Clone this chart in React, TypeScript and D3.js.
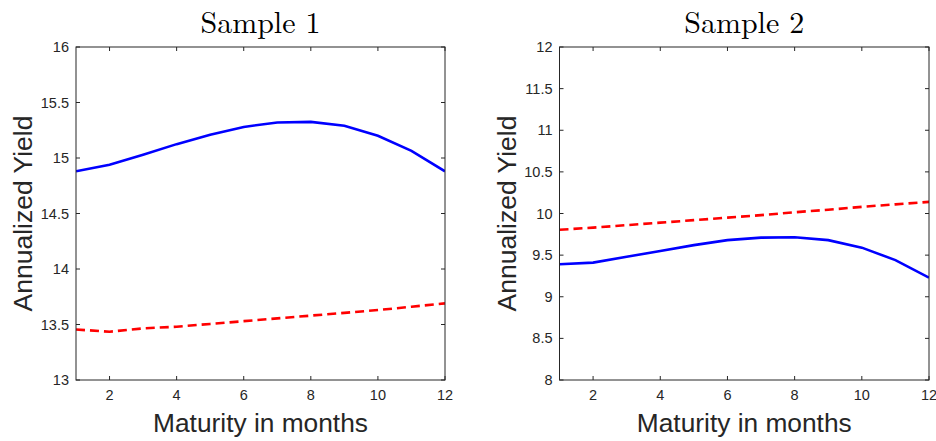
import React from "react";
import * as d3 from "d3";

const maturities = [1, 2, 3, 4, 5, 6, 7, 8, 9, 10, 11, 12];
const sample1Blue = [14.88, 14.94, 15.03, 15.125, 15.21, 15.28, 15.32, 15.325, 15.29, 15.2, 15.065, 14.88];
const sample1Red = [13.455, 13.435, 13.465, 13.48, 13.505, 13.53, 13.555, 13.58, 13.605, 13.63, 13.66, 13.69];
const sample2Blue = [9.39, 9.41, 9.48, 9.55, 9.62, 9.68, 9.71, 9.715, 9.68, 9.59, 9.44, 9.23];
const sample2Red = [9.805, 9.83, 9.86, 9.89, 9.92, 9.95, 9.98, 10.015, 10.045, 10.08, 10.11, 10.14];
const xTicks = [2, 4, 6, 8, 10, 12];
const yTicks1 = [13, 13.5, 14, 14.5, 15, 15.5, 16];
const yTicks2 = [8, 8.5, 9, 9.5, 10, 10.5, 11, 11.5, 12];

const AX = "#262626";
const SANS = "Liberation Sans, Arial, Helvetica, sans-serif";

type PanelProps = {
  left: number;
  right: number;
  top: number;
  bottom: number;
  title: string;
  yDomain: [number, number];
  yTicks: number[];
  blue: number[];
  red: number[];
};

function Panel({ left, right, top, bottom, title, yDomain, yTicks, blue, red }: PanelProps) {
  const x = d3.scaleLinear().domain([1, 12]).range([left, right]);
  const y = d3.scaleLinear().domain(yDomain).range([bottom, top]);
  const line = d3
    .line<number>()
    .x((_, i) => x(maturities[i]))
    .y((d) => y(d));
  const tl = 4;
  return (
    <g>
      <text
        x={(left + right) / 2}
        y={33}
        textAnchor="middle"
        fontFamily="Latin Modern Roman, CMU Serif, Liberation Serif, serif"
        fontSize={30}
        fill="#000"
      >
        {title}
      </text>
      <defs>
        <clipPath id={"clip" + Math.round(left)}>
          <rect x={left} y={top} width={right - left} height={bottom - top} />
        </clipPath>
      </defs>
      <g clipPath={`url(#clip${Math.round(left)})`}>
        <path d={line(blue) || ""} fill="none" stroke="#0000ff" strokeWidth={2.6} />
        <path d={line(red) || ""} fill="none" stroke="#ff0000" strokeWidth={2.6} strokeDasharray="9,5" />
      </g>
      <rect x={left} y={top} width={right - left} height={bottom - top} fill="none" stroke={AX} strokeWidth={1} />
      {xTicks.map((t) => (
        <g key={"x" + t}>
          <line x1={x(t)} x2={x(t)} y1={bottom} y2={bottom - tl} stroke={AX} />
          <line x1={x(t)} x2={x(t)} y1={top} y2={top + tl} stroke={AX} />
          <text x={x(t)} y={bottom + 20} textAnchor="middle" fontFamily={SANS} fontSize={14.5} fill={AX}>
            {t}
          </text>
        </g>
      ))}
      {yTicks.map((t) => (
        <g key={"y" + t}>
          <line x1={left} x2={left + tl} y1={y(t)} y2={y(t)} stroke={AX} />
          <line x1={right} x2={right - tl} y1={y(t)} y2={y(t)} stroke={AX} />
          <text x={left - 7} y={y(t) + 5} textAnchor="end" fontFamily={SANS} fontSize={14.5} fill={AX}>
            {t}
          </text>
        </g>
      ))}
      <text
        x={(left + right) / 2}
        y={432}
        textAnchor="middle"
        fontFamily={SANS}
        fontSize={26.3}
        fill={AX}
      >
        Maturity in months
      </text>
      <text
        transform={`translate(${left - 44},${(top + bottom) / 2}) rotate(-90)`}
        textAnchor="middle"
        fontFamily={SANS}
        fontSize={26.5}
        fill={AX}
      >
        Annualized Yield
      </text>
    </g>
  );
}

export default function App() {
  return (
    <svg width={936} height={441} style={{ position: "absolute", left: 0, top: 0, background: "#fff" }}>
      <rect width={936} height={441} fill="#fff" />
      <Panel left={76} right={445} top={47} bottom={380} title="Sample 1" yDomain={[13, 16]} yTicks={yTicks1} blue={sample1Blue} red={sample1Red} />
      <Panel left={559.5} right={929} top={47} bottom={380} title="Sample 2" yDomain={[8, 12]} yTicks={yTicks2} blue={sample2Blue} red={sample2Red} />
    </svg>
  );
}
